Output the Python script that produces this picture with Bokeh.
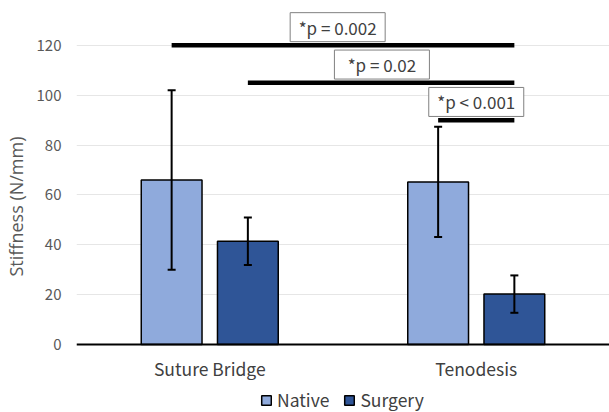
from bokeh.plotting import figure
from bokeh.models import (ColumnDataSource, FactorRange, Range1d, FixedTicker,
                          Whisker, TeeHead, Legend, LegendItem, Span)
from bokeh.transform import dodge
from bokeh.core.properties import value
from bokeh.embed import file_html
from bokeh.resources import INLINE

# ---- data ----
categories = ["Suture Bridge", "Tenodesis"]
native = [66.0, 65.2]
native_sd = [36.0, 22.1]
surgery = [41.4, 20.2]
surgery_sd = [9.5, 7.5]
y_ticks = [0, 20, 40, 60, 80, 100, 120]

sig_from = [("Suture Bridge", "Native"), ("Suture Bridge", "Surgery"), ("Tenodesis", "Native")]
sig_to = [("Tenodesis", "Surgery"), ("Tenodesis", "Surgery"), ("Tenodesis", "Surgery")]
sig_y = [120, 105, 90]
sig_text = ["*p = 0.002", "*p = 0.02", "*p < 0.001"]

FONT = "Noto Sans CJK JP"
NATIVE_C = "#8FAADC"
SURGERY_C = "#2F5597"
OFF = 0.143
BAR_W = 0.228
series_off = {"Native": -OFF, "Surgery": OFF}
label_off = [-0.52, -0.354, 0.0]   # label box positions relative to Tenodesis
label_dy = 7.3

# frame extends below zero to host category labels and legend
p = figure(x_range=FactorRange(*categories), y_range=Range1d(-27.3, 138),
           width=609, height=412, output_backend="svg", toolbar_location=None,
           x_axis_location=None,
           min_border_left=75, min_border_right=0, min_border_top=0,
           min_border_bottom=0)
p.outline_line_color = None
p.background_fill_color = "white"

src = ColumnDataSource(dict(
    cat=categories, native=native, surgery=surgery,
    n_up=[v + s for v, s in zip(native, native_sd)],
    n_lo=[v - s for v, s in zip(native, native_sd)],
    s_up=[v + s for v, s in zip(surgery, surgery_sd)],
    s_lo=[v - s for v, s in zip(surgery, surgery_sd)],
))

r_n = p.vbar(x=dodge("cat", -OFF, range=p.x_range), top="native", bottom=0, width=BAR_W,
             source=src, fill_color=NATIVE_C, line_color="black", line_width=1.5)
r_s = p.vbar(x=dodge("cat", OFF, range=p.x_range), top="surgery", bottom=0, width=BAR_W,
             source=src, fill_color=SURGERY_C, line_color="black", line_width=1.5)

for off, up, lo in [(-OFF, "n_up", "n_lo"), (OFF, "s_up", "s_lo")]:
    w = Whisker(base=dodge("cat", off, range=p.x_range), upper=up, lower=lo, source=src,
                line_color="black", line_width=2, level="annotation",
                upper_head=TeeHead(size=8, line_width=2, line_color="black"),
                lower_head=TeeHead(size=8, line_width=2, line_color="black"))
    p.add_layout(w)

# baseline (category axis line)
p.add_layout(Span(location=0, dimension="width", line_color="black", line_width=2))

# category labels
p.text(x="cat", y=0, text="cat", source=src, text_align="center", text_baseline="top",
       y_offset=12, text_font=value(FONT), text_font_size="17.5px", text_color="#404040")

# significance bars
sig_src = ColumnDataSource(dict(
    x0=[(c, series_off[s]) for c, s in sig_from],
    x1=[(c, series_off[s]) for c, s in sig_to],
    y=sig_y,
    lx=[("Tenodesis", o) for o in label_off],
    ly=[y + label_dy for y in sig_y],
    txt=sig_text,
))
p.segment(x0="x0", y0="y", x1="x1", y1="y", source=sig_src, line_color="black", line_width=4.5)
p.rect(x="lx", y="ly", width=95, height=29, width_units="screen", height_units="screen",
       source=sig_src, fill_color="white", line_color="#808080", line_width=1)
p.text(x="lx", y="ly", text="txt", source=sig_src, text_align="center", text_baseline="middle",
       text_font=value(FONT), text_font_size="17px", text_color="#404040")

# y axis
p.yaxis.ticker = FixedTicker(ticks=y_ticks)
p.yaxis.axis_line_color = None
p.yaxis.major_tick_line_color = None
p.yaxis.minor_tick_line_color = None
p.yaxis.major_label_text_font = FONT
p.yaxis.major_label_text_font_size = "15px"
p.yaxis.major_label_text_color = "#595959"
p.yaxis.major_label_standoff = 9
p.yaxis.axis_label = "Stiffness (N/mm)"
p.yaxis.axis_label_text_font = "Open Sans"
p.yaxis.axis_label_text_font_size = "18px"
p.yaxis.axis_label_text_font_style = "normal"
p.yaxis.axis_label_text_color = "#595959"
p.yaxis.axis_label_standoff = 6

p.xgrid.grid_line_color = None
p.ygrid.grid_line_color = "#E6E6E6"
p.ygrid.grid_line_width = 1

legend = Legend(items=[LegendItem(label="Native", renderers=[r_n]),
                       LegendItem(label="Surgery", renderers=[r_s])],
                orientation="horizontal", location=(184, 0),
                glyph_width=12, glyph_height=12, spacing=14, label_standoff=5,
                padding=0, margin=0, border_line_color=None, background_fill_alpha=0,
                label_text_font=FONT, label_text_font_size="17.5px",
                label_text_color="#404040")
p.add_layout(legend, "center")

open("out.html", "w").write(file_html(p, INLINE))
